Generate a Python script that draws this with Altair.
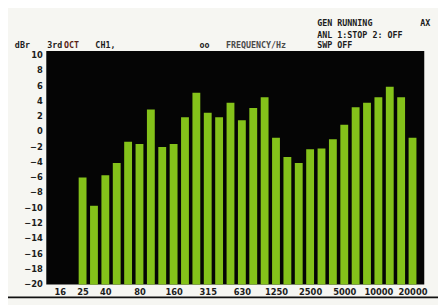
import altair as alt
import pandas as pd

# 1/3-octave band centre frequencies (Hz)
bands = ["16", "20", "25", "31.5", "40", "50", "63", "80", "100", "125", "160", "200",
         "250", "315", "400", "500", "630", "800", "1000", "1250", "1600", "2000",
         "2500", "3150", "4000", "5000", "6300", "8000", "10000", "12500", "16000", "20000"]
# measured level (dBr) for bands 25 Hz .. 20 kHz
levels = [-6.1, -9.8, -5.8, -4.2, -1.4, -1.7, 2.8, -2.1, -1.7, 1.8, 5.0, 2.4,
          1.8, 3.7, 1.4, 3.0, 4.4, -0.9, -3.4, -4.2, -2.4, -2.3, -1.1, 0.8,
          3.1, 3.7, 4.4, 5.8, 4.4, -0.9]
tick_labels = ["16", "25", "40", "80", "160", "315", "630", "1250", "2500", "5000", "10000", "20000"]
y_ticks = list(range(-20, 11, 2))

Y_MIN, Y_MAX = -20.13, 10.48
X_MIN, X_MAX = -0.76, 31.6

first = bands.index("25")
df = pd.DataFrame({
    "idx": list(range(first, first + len(levels))),
    "band": bands[first:first + len(levels)],
    "level": levels,
})
tick_idx = [bands.index(t) for t in tick_labels]
label_expr = "[" + ",".join("'" + b + "'" for b in bands) + "][datum.value]"

W, H = 385, 238
mono = "DejaVu Sans Mono"
ink = "#1c1c1c"

bars = alt.Chart(df).mark_bar(size=8, color="#84c21a").encode(
    x=alt.X("idx:Q", scale=alt.Scale(domain=[X_MIN, X_MAX], nice=False, zero=False),
            axis=alt.Axis(values=tick_idx, labelExpr=label_expr, title=None, ticks=False,
                          domain=False, grid=False, labelPadding=3, labelFontSize=8.5,
                          labelFontWeight="bold", labelColor=ink, labelFont="DejaVu Sans")),
    y=alt.Y("level:Q", scale=alt.Scale(domain=[Y_MIN, Y_MAX], nice=False, zero=False),
            axis=alt.Axis(values=y_ticks, title=None, ticks=False, domain=False, grid=False,
                          labelPadding=4, labelFontSize=8.5, labelFontWeight="bold",
                          labelColor=ink, labelFont="DejaVu Sans")),
    y2=alt.Y2(datum=Y_MIN),
)

one = alt.Data(values=[{}])

def label(txt, x, y, color=ink, size=8.5, align="left"):
    return alt.Chart(one).mark_text(text=txt, font=mono, fontWeight="bold", fontSize=size,
                                    color=color, align=align, baseline="middle").encode(
        x=alt.value(x), y=alt.value(y))

texts = [
    label("dBr", -32, -6),
    label("3rd", 1, -6),
    label("OCT", 18, -6, color="#5a1e14"),
    label("CH1,", 50, -6),
    label("oo", 156, -6),
    label("FREQUENCY/Hz", 183, -6, color="#4a4a4a"),
    label("GEN RUNNING", 276, -28),
    label("ANL 1:STOP 2: OFF", 276, -16),
    label("SWP OFF", 276, -6),
    label("AX", 381, -28),
]

bottom_line = alt.Chart(one).mark_rule(color="#111111", strokeWidth=2).encode(
    x=alt.value(-45), x2=alt.value(410), y=alt.value(251))

chart = alt.layer(bars, *texts, bottom_line).properties(
    width=W, height=H,
    autosize=alt.AutoSizeParams(type="none"),
    padding={"left": 39, "top": 41, "right": 14, "bottom": 18},
    background="#f6f6f2",
).configure_view(fill="#050505", stroke=None)

chart.save("out.html", embed_options={"renderer": "svg", "actions": False})
